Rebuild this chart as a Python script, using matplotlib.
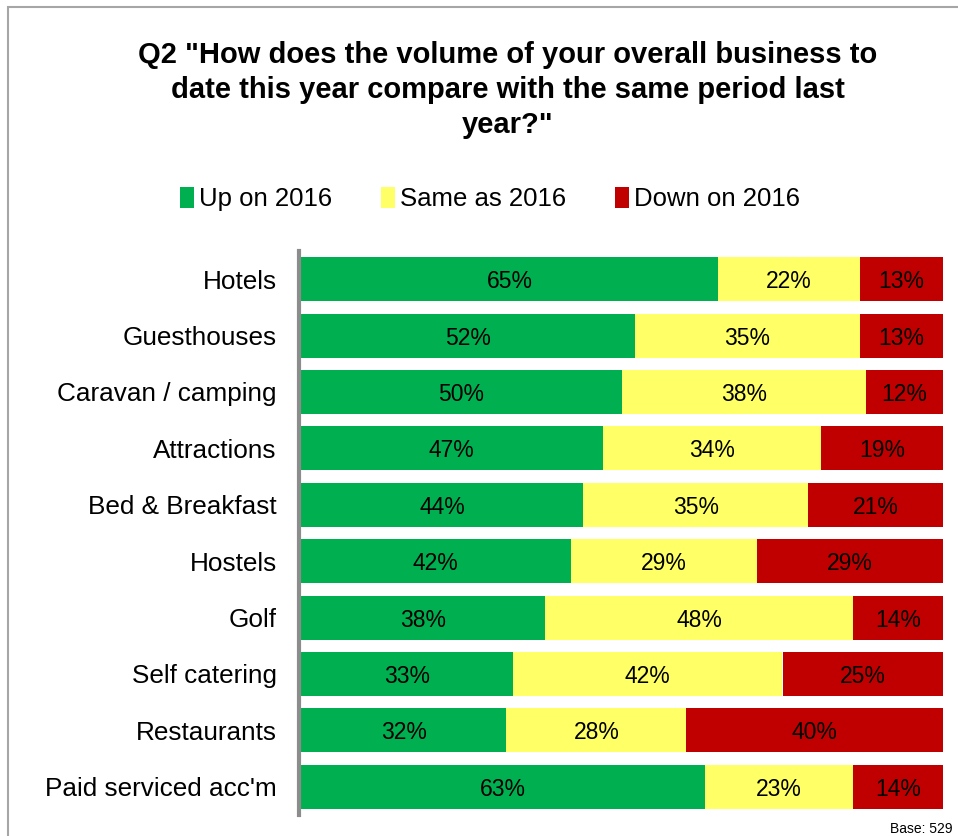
import matplotlib
matplotlib.use("Agg")
import matplotlib.pyplot as plt
from matplotlib.patches import Rectangle
import numpy as np

plt.rcParams['font.family'] = ['Liberation Sans', 'DejaVu Sans']

categories = ["Hotels", "Guesthouses", "Caravan / camping", "Attractions",
              "Bed & Breakfast", "Hostels", "Golf", "Self catering",
              "Restaurants", "Paid serviced acc'm"]
up = [65, 52, 50, 47, 44, 42, 38, 33, 32, 63]
same = [22, 35, 38, 34, 35, 29, 48, 42, 28, 23]
down = [13, 13, 12, 19, 21, 29, 14, 25, 40, 14]
series_names = ["Up on 2016", "Same as 2016", "Down on 2016"]
colors = ["#00B050", "#FFFF66", "#C00000"]

W, H = 958, 836
fig = plt.figure(figsize=(W / 100, H / 100), dpi=100)

# outer frame
fig.patches.append(Rectangle((8 / W, -0.05), 1.2, (H - 7) / H + 0.05,
                             transform=fig.transFigure, fill=False,
                             edgecolor="#A6A6A6", lw=1.5))

ax = fig.add_axes([301 / W, 21 / H, 642 / W, 564 / H])
for s in ["top", "right", "bottom"]:
    ax.spines[s].set_visible(False)
ax.spines["left"].set_color("#8C8C8C")
ax.spines["left"].set_linewidth(3)
ax.spines["left"].set_position(("outward", 1.5))

y = np.arange(len(categories))
left = np.zeros(len(categories))
for vals, name, c in zip([up, same, down], series_names, colors):
    vals = np.array(vals, dtype=float)
    ax.barh(y, vals, left=left, height=0.78, color=c, label=name,
            edgecolor="none")
    for yi, l, v in zip(y, left, vals):
        ax.text(l + v / 2, yi, f"{int(v)}%", ha="center", va="center_baseline",
                fontsize=16.5, color="black")
    left += vals

ax.set_xlim(0, 100)
ax.set_ylim(9.5, -0.5)
ax.set_yticks(y)
ax.set_yticklabels(categories)
ax.tick_params(axis="y", length=0, pad=16, labelsize=18.8)
ax.set_xticks([])

fig.text(508 / W, 1 - 90 / H,
         'Q2 "How does the volume of your overall business to\n'
         'date this year compare with the same period last\nyear?"',
         ha="center", va="center", fontsize=21, fontweight="bold",
         linespacing=1.32)

handles, labels = ax.get_legend_handles_labels()
fig.legend(handles, labels, loc="center", bbox_to_anchor=(490 / W, 1 - 199 / H),
           ncol=3, frameon=False, fontsize=18.5, handlelength=0.55,
           handleheight=0.9, handletextpad=0.2, columnspacing=1.9)

fig.text(952 / W, 1 - 829 / H, "Base: 529", ha="right", va="center",
         fontsize=10)

fig.savefig("out.png", dpi=100)
